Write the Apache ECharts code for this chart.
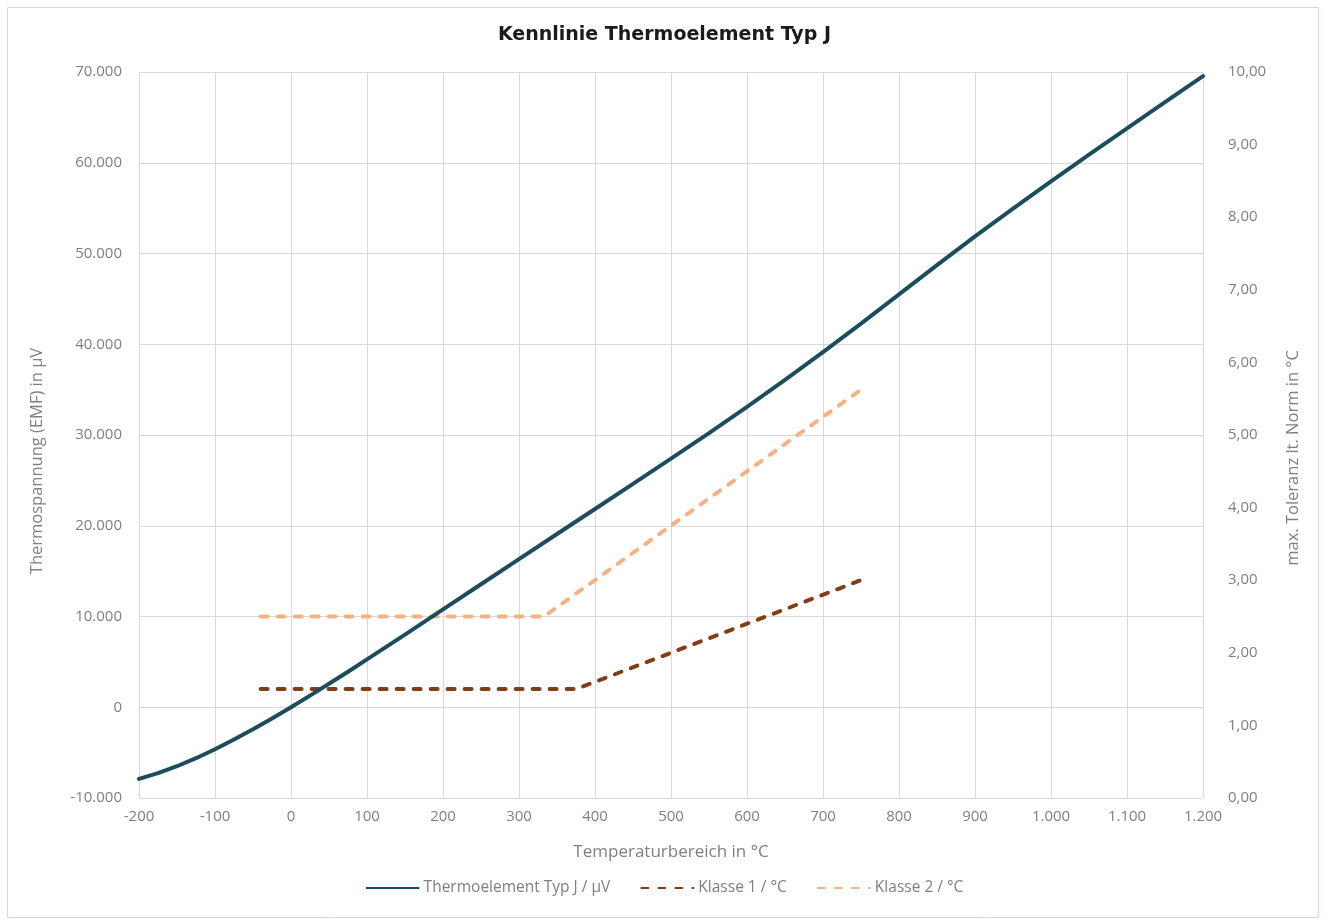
<!DOCTYPE html>
<html>
<head>
<meta charset="utf-8">
<script src="https://cdn.jsdelivr.net/npm/echarts@6/dist/echarts.min.js"></script>
<style>html,body{margin:0;padding:0;background:#fff}#c{width:1329px;height:922px}</style>
</head>
<body>
<div id="c"></div>
<script>
const temps = [-200,-175,-150,-125,-100,-75,-50,-25,0,25,50,75,100,150,200,250,300,350,400,450,500,550,600,650,700,750,800,850,870,900,950,1000,1050,1100,1150,1200];
const emf = [-7890,-7265,-6500,-5615,-4633,-3553,-2431,-1239,0,1277,2585,3918,5269,8010,10779,13555,16327,19090,21848,24610,27393,30216,33102,36071,39132,42281,45494,48715,49987,51877,54956,57953,60890,63792,66679,69553];
const k1Temps = [-40,375,750];
const k1Vals = [1.5,1.5,3.0];
const k2Temps = [-40,333,750];
const k2Vals = [2.5,2.5,5.625];
const seriesNames = ['Thermoelement Typ J / µV','Klasse 1 / °C','Klasse 2 / °C'];
const leftAxisName = 'Thermospannung (EMF) in µV';
const rightAxisName = 'max. Toleranz lt. Norm in °C';

const fmtThousands = v => {
  const s = Math.abs(v).toString().replace(/\B(?=(\d{3})+(?!\d))/g, '.');
  return (v < 0 ? '-' : '') + s;
};
const zip = (a,b) => a.map((x,i)=>[x,b[i]]);
const font = '"Open Sans", "Liberation Sans", sans-serif';
const gray = '#7f7f7f';

const chart = echarts.init(document.getElementById('c'));
chart.setOption({
  animation: false,
  textStyle: {fontFamily: font},
  title: {
    text: 'Kennlinie Thermoelement Typ J',
    left: 'center', top: 21,
    textStyle: {fontFamily: '"DejaVu Sans", sans-serif', fontWeight: 'bold', fontSize: 19, color: '#1a1a1a'}
  },
  graphic: [{
    type: 'rect', shape: {x: 7.5, y: 7.5, width: 1311, height: 910},
    style: {fill: 'none', stroke: '#c9dcec', lineWidth: 1}, silent: true, z: -10
  }, {
    type: 'text', x: 37, y: 461, rotation: Math.PI / 2,
    style: {text: leftAxisName, fill: gray, fontSize: 16.5, fontFamily: font, align: 'center', verticalAlign: 'middle'}
  }, {
    type: 'text', x: 1293, y: 458, rotation: Math.PI / 2,
    style: {text: rightAxisName, fill: gray, fontSize: 16.5, fontFamily: font, align: 'center', verticalAlign: 'middle'}
  }],
  grid: {left: 139, right: 126, top: 72, bottom: 124},
  legend: {
    bottom: 21, left: 'center', itemWidth: 52, itemHeight: 10, itemGap: 30,
    textStyle: {color: gray, fontSize: 15.5, fontFamily: font},
    itemStyle: {opacity: 0},
    data: seriesNames
  },
  xAxis: {
    type: 'value', min: -200, max: 1200, interval: 100,
    name: 'Temperaturbereich in °C', nameLocation: 'middle', nameGap: 46,
    nameTextStyle: {color: gray, fontSize: 17},
    axisLine: {show: false}, axisTick: {show: false},
    axisLabel: {color: gray, fontSize: 15, margin: 11, formatter: fmtThousands},
    splitLine: {show: true, lineStyle: {color: '#d9d9d9', width: 1}}
  },
  yAxis: [{
    type: 'value', min: -10000, max: 70000, interval: 10000,
    axisLine: {show: false}, axisTick: {show: false},
    axisLabel: {color: gray, fontSize: 15, margin: 17, formatter: fmtThousands},
    splitLine: {lineStyle: {color: '#d9d9d9', width: 1}}
  }, {
    type: 'value', min: 0, max: 10, interval: 1, position: 'right', alignTicks: false,
    axisLine: {show: false}, axisTick: {show: false},
    axisLabel: {color: gray, fontSize: 15, margin: 25, formatter: v => v.toFixed(2).replace('.', ',')},
    splitLine: {show: false}
  }],
  series: [{
    name: seriesNames[0], type: 'line', yAxisIndex: 0, data: zip(temps, emf),
    symbol: 'none', smooth: false,
    lineStyle: {color: '#1b4d5a', width: 4, cap: 'round', join: 'round'}, itemStyle: {color: '#1b4d5a'}, z: 3
  }, {
    name: seriesNames[1], type: 'line', yAxisIndex: 1, data: zip(k1Temps, k1Vals),
    symbol: 'none',
    lineStyle: {color: '#843c14', width: 4, type: [7, 10], cap: 'round'}, itemStyle: {color: '#843c14'}, z: 2
  }, {
    name: seriesNames[2], type: 'line', yAxisIndex: 1, data: zip(k2Temps, k2Vals),
    symbol: 'none',
    lineStyle: {color: '#f4b183', width: 4, type: [7, 10], cap: 'round'}, itemStyle: {color: '#f4b183'}, z: 2
  }]
});
</script>
</body>
</html>
